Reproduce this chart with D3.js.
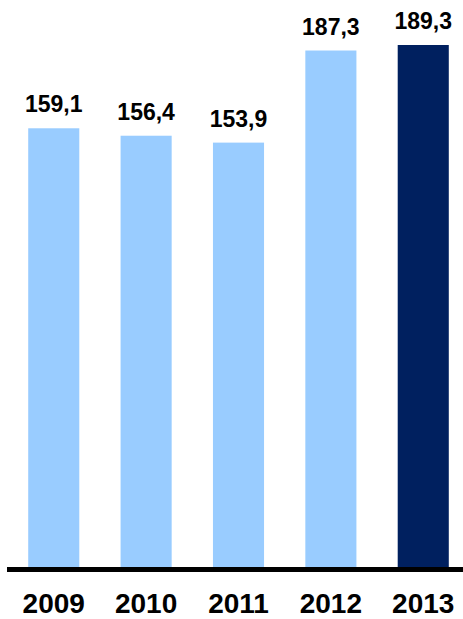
<!DOCTYPE html>
<html>
<head>
<meta charset="utf-8">
<script src="https://cdn.jsdelivr.net/npm/d3@7"></script>
<style>
  body { margin: 0; background: #fff; }
  svg { display: block; }
  text { font-family: "Liberation Sans", Arial, sans-serif; font-weight: bold; fill: #000; }
</style>
</head>
<body>
<svg class="chart" width="463" height="619"></svg>
<script>
var years = ["2009", "2010", "2011", "2012", "2013"];
var values = [159.1, 156.4, 153.9, 187.3, 189.3];
var labels = ["159,1", "156,4", "153,9", "187,3", "189,3"];
var highlight = ["2013"];

var width = 463, height = 619,
	baseY = 567;

var x = d3.scaleBand()
	.domain(years)
	.range([0.5, 476.5])
	.paddingInner(0.447)
	.paddingOuter(0.3);

var y = d3.scaleLinear()
	.domain([0, 189.3])
	.range([baseY, 45]);

var chart = d3.select(".chart");

var data = years.map(function(d, i) { return { year: d, value: values[i], label: labels[i] }; });

chart.selectAll("rect.bar")
	.data(data)
.enter().append("rect")
	.attr("class", "bar")
	.attr("x", function(d) { return x(d.year); })
	.attr("y", function(d) { return y(d.value); })
	.attr("width", x.bandwidth())
	.attr("height", function(d) { return baseY - y(d.value); })
	.style("fill", function(d) { return highlight.indexOf(d.year) >= 0 ? "#00205F" : "#99CCFF"; });

chart.selectAll("text.val")
	.data(data)
.enter().append("text")
	.attr("class", "val")
	.attr("x", function(d) { return x(d.year) + x.bandwidth() / 2; })
	.attr("y", function(d) { return y(d.value) - 16; })
	.style("text-anchor", "middle")
	.style("font-size", "23px")
	.text(function(d) { return d.label; });

// axis line
chart.append("line")
	.attr("x1", 7)
	.attr("x2", width)
	.attr("y1", baseY + 2.5)
	.attr("y2", baseY + 2.5)
	.style("stroke", "#000")
	.style("stroke-width", 5);

chart.selectAll("text.year")
	.data(years)
.enter().append("text")
	.attr("class", "year")
	.attr("x", function(d) { return x(d) + x.bandwidth() / 2; })
	.attr("y", 613)
	.style("text-anchor", "middle")
	.style("font-size", "28px")
	.text(function(d) { return d; });
</script>
</body>
</html>
